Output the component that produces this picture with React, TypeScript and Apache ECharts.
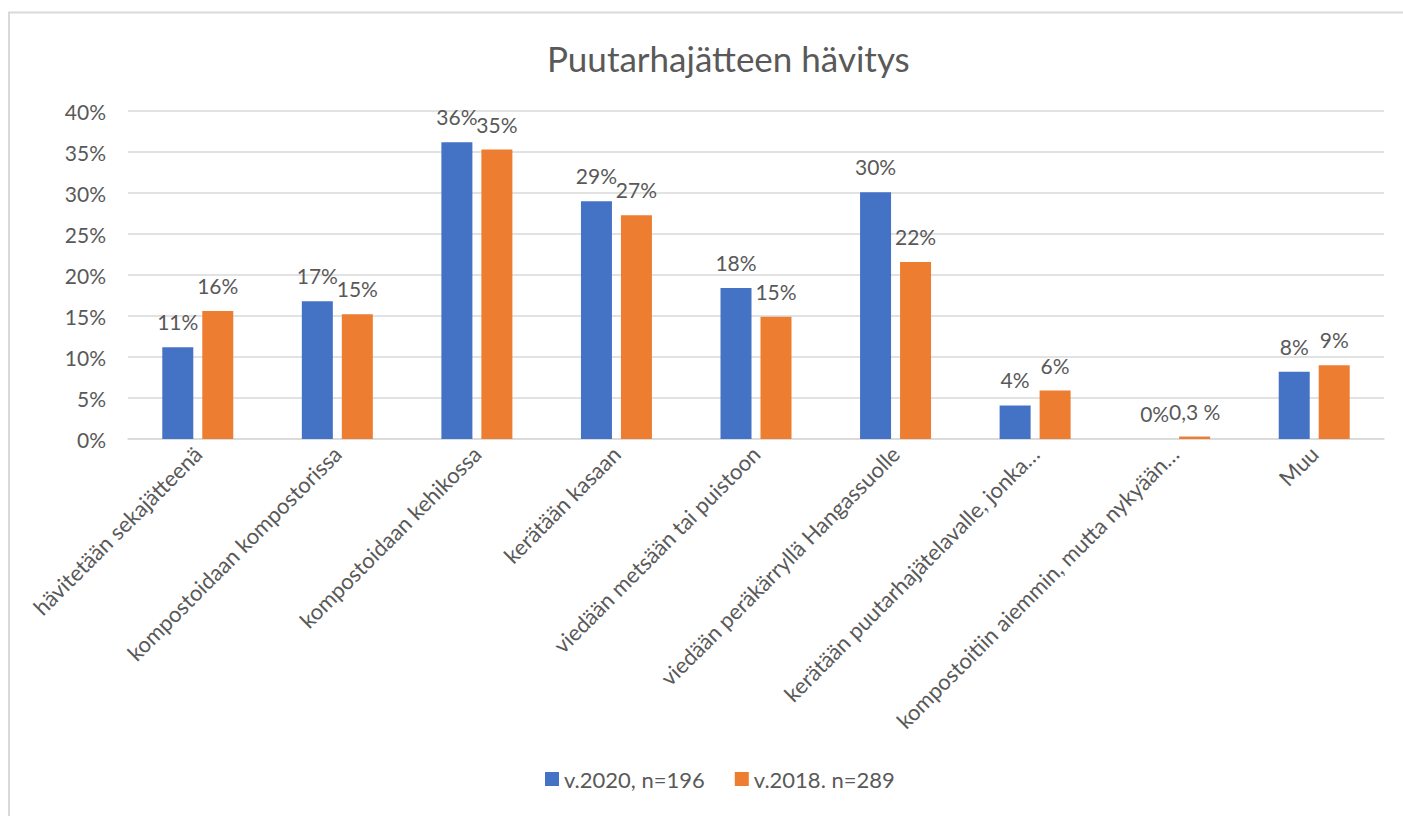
import React, { useEffect, useRef } from "react";
import * as echarts from "echarts";

const categories = [
  "hävitetään sekajätteenä",
  "kompostoidaan kompostorissa",
  "kompostoidaan kehikossa",
  "kerätään kasaan",
  "viedään metsään tai puistoon",
  "viedään peräkärryllä Hangassuolle",
  "kerätään puutarhajätelavalle, jonka…",
  "kompostoitiin aiemmin, mutta nykyään…",
  "Muu",
];

const series2020Name = "v.2020, n=196";
const series2018Name = "v.2018. n=289";

const values2020 = [11.2, 16.8, 36.2, 29.0, 18.4, 30.1, 4.1, 0, 8.2];
const values2018 = [15.6, 15.2, 35.3, 27.3, 14.9, 21.6, 5.9, 0.3, 9.0];

const labels2020 = ["11%", "17%", "36%", "29%", "18%", "30%", "4%", "0%", "8%"];
const labels2018 = ["16%", "15%", "35%", "27%", "15%", "22%", "6%", "0,3 %", "9%"];

const yTicks = [0, 5, 10, 15, 20, 25, 30, 35, 40];

const FONT = "Lato, 'Open Sans', sans-serif";
const TEXT = "#595959";
const GRID = "#d9d9d9";

export default function App() {
  const ref = useRef<HTMLDivElement>(null);

  useEffect(() => {
    if (!ref.current) return;
    const chart = echarts.init(ref.current, null, { renderer: "svg" });
    chart.setOption({
      animation: false,
      backgroundColor: "#ffffff",
      textStyle: { fontFamily: FONT, color: TEXT },
      graphic: [
        {
          type: "polyline",
          shape: { points: [[9, 816], [9, 12.5], [1403, 12.5]] },
          style: { fill: "none", stroke: GRID, lineWidth: 2 },
          silent: true,
        },
      ],
      title: {
        text: "Puutarhajätteen hävitys",
        left: 542,
        top: 35,
        textStyle: { fontFamily: FONT, fontSize: 35, fontWeight: "normal", color: TEXT },
      },
      legend: {
        bottom: 21,
        left: 540,
        itemWidth: 14,
        itemHeight: 14,
        itemGap: 30,
        icon: "rect",
        textStyle: { fontFamily: FONT, fontSize: 22, color: TEXT },
        data: [series2020Name, series2018Name],
      },
      grid: { left: 128, right: 19, top: 111, bottom: 377, containLabel: false },
      xAxis: {
        type: "category",
        data: categories,
        axisLine: { show: true, lineStyle: { color: GRID, width: 1.5 } },
        axisTick: { show: false },
        axisLabel: {
          interval: 0,
          rotate: 45,
          margin: 11,
          fontFamily: FONT,
          fontSize: 22,
          color: TEXT,
        },
      },
      yAxis: {
        type: "value",
        min: yTicks[0],
        max: yTicks[yTicks.length - 1],
        interval: yTicks[1] - yTicks[0],
        axisLine: { show: false },
        axisTick: { show: false },
        splitLine: { lineStyle: { color: GRID, width: 1.5 } },
        axisLabel: {
          margin: 22,
          fontFamily: FONT,
          fontSize: 21,
          color: TEXT,
          formatter: (v: number) => `${v}%`,
        },
      },
      series: [
        {
          name: series2020Name,
          type: "bar",
          data: values2020,
          barWidth: 31,
          barGap: "29%",
          itemStyle: { color: "#4472C4" },
          label: {
            show: true,
            position: "top",
            distance: 15,
            fontFamily: FONT,
            fontSize: 21,
            color: TEXT,
            formatter: (p: any) => labels2020[p.dataIndex],
          },
        },
        {
          name: series2018Name,
          type: "bar",
          data: values2018,
          barWidth: 31,
          itemStyle: { color: "#ED7D31" },
          label: {
            show: true,
            position: "top",
            distance: 15,
            fontFamily: FONT,
            fontSize: 21,
            color: TEXT,
            formatter: (p: any) => labels2018[p.dataIndex],
          },
        },
      ],
    });
    return () => chart.dispose();
  }, []);

  return (
    <div
      ref={ref}
      style={{ position: "absolute", left: 0, top: 0, width: 1403, height: 816 }}
    />
  );
}
